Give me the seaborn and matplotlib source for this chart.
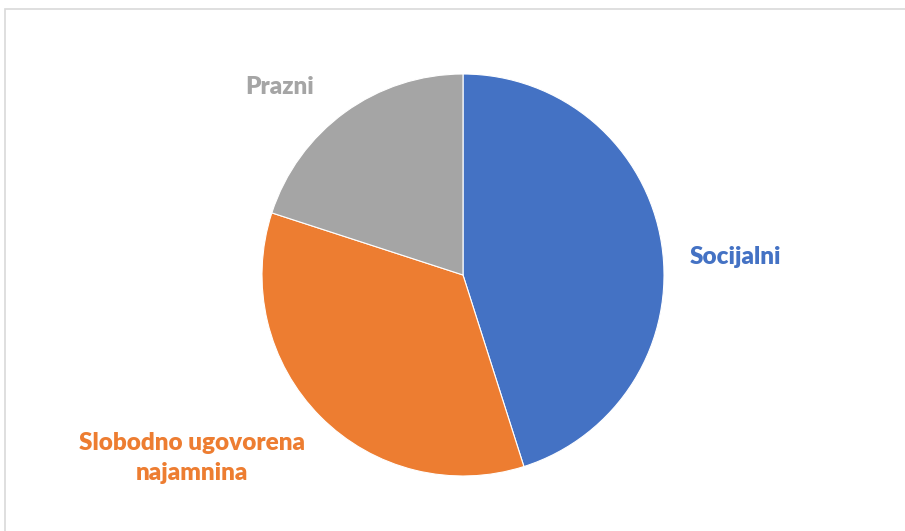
import matplotlib
matplotlib.use("Agg")
import matplotlib.pyplot as plt
import seaborn as sns
from matplotlib.patches import Rectangle

sns.set_theme(style="white")
plt.rcParams['font.family'] = ['Lato', 'DejaVu Sans']

categories = ["Socijalni", "Slobodno ugovorena\nnajamnina", "Prazni"]
values = [45.1, 34.9, 20.0]
colors = ["#4472C4", "#ED7D31", "#A5A5A5"]

W, H = 905, 531
fig = plt.figure(figsize=(W / 100, H / 100), dpi=100)
fig.patch.set_facecolor("white")

# border frame
fig.add_artist(Rectangle((5 / W, -0.01), 1.02, (531 - 9) / H + 0.01, transform=fig.transFigure,
                         fill=False, edgecolor="#D9D9D9", linewidth=1.2))

cx, cy, r = 463, 275, 201
ax = fig.add_axes([(cx - r) / W, (H - cy - r) / H, 2 * r / W, 2 * r / H])
ax.pie(values, colors=colors, startangle=90, counterclock=False,
       wedgeprops=dict(edgecolor="white", linewidth=0.8))
ax.set_xlim(-1, 1)
ax.set_ylim(-1, 1)
ax.set_aspect("equal")
ax.axis("off")

label_pos = [(735, 257), (192, 458), (280, 87)]
for lab, col, (x, y) in zip(categories, colors, label_pos):
    fig.text(x / W, 1 - y / H, lab, color=col, fontsize=17.5, fontweight="heavy",
             ha="center", va="center", linespacing=1.4)

fig.savefig("out.png", dpi=100, facecolor="white")
